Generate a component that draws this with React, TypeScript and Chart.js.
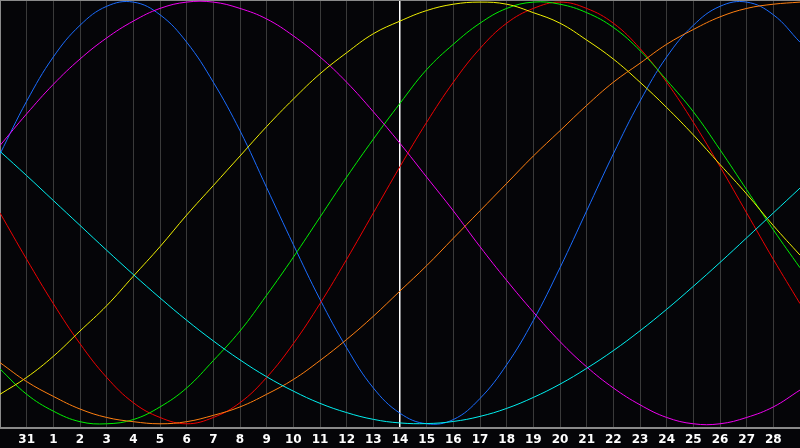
import React, { useEffect, useRef } from "react";
import { Chart, registerables } from "chart.js";

Chart.register(...registerables);

// day of month for each column (first and last are off the labelled range)
const days = [
  "30", "31", "1", "2", "3", "4", "5", "6", "7", "8", "9", "10", "11", "12", "13", "14",
  "15", "16", "17", "18", "19", "20", "21", "22", "23", "24", "25", "26", "27", "28", "1",
];
const todayIndex = 15;

const physical = [
  28, 53, 74, 89, 98, 100, 94, 81, 62, 39, 12, -15, -41, -64, -83, -95,
  -100, -98, -88, -72, -51, -26, 1, 28, 53, 74, 89, 98, 100, 94, 81,
];
const emotional = [
  0, -22, -43, -62, -78, -90, -97, -100, -97, -90, -78, -62, -43, -22, 0, 22,
  43, 62, 78, 90, 97, 100, 97, 90, 78, 62, 43, 22, 0, -22, -43,
];
const intellectual = [
  -74, -86, -94, -99, -100, -98, -92, -83, -70, -56, -39, -21, -2, 17, 35, 52,
  68, 80, 90, 97, 100, 99, 95, 88, 77, 63, 48, 30, 11, -8, -26,
];
const intuitive = [
  32, 47, 61, 73, 83, 91, 97, 100, 100, 97, 92, 84, 74, 62, 48, 33,
  17, 1, -16, -32, -47, -61, -73, -83, -91, -97, -100, -100, -97, -92, -84,
];
const aesthetic = [
  -86, -78, -68, -56, -44, -30, -16, -1, 13, 27, 41, 54, 66, 76, 85, 91,
  96, 99, 100, 99, 95, 90, 82, 73, 62, 50, 37, 23, 9, -6, -20,
];
const awareness = [
  -71, -80, -87, -93, -97, -99, -100, -99, -96, -92, -86, -79, -70, -60, -49, -37,
  -25, -12, 1, 14, 27, 39, 51, 62, 71, 80, 87, 93, 97, 99, 100,
];
const spiritual = [
  29.2, 17.7, 5.9, -5.9, -17.7, -29.2, -40.3, -50.9, -60.7, -69.7, -77.7, -84.5, -90.3, -94.7, -97.9, -99.6,
  -99.9, -98.9, -96.5, -92.7, -87.5, -81.2, -73.7, -65.3, -55.9, -45.7, -34.8, -23.5, -11.8, 0, 11.8,
];

const series = [
  { label: "Spiritual", data: spiritual, color: "#00f0f0" },
  { label: "Awareness", data: awareness, color: "#ff7f10" },
  { label: "Aesthetic", data: aesthetic, color: "#f0f000" },
  { label: "Intuitive", data: intuitive, color: "#f000f0" },
  { label: "Intellectual", data: intellectual, color: "#00f000" },
  { label: "Emotional", data: emotional, color: "#f00000" },
  { label: "Physical", data: physical, color: "#1a6cff" },
];

const App: React.FC = () => {
  const canvasRef = useRef<HTMLCanvasElement>(null);
  const chartRef = useRef<Chart>();

  useEffect(() => {
    document.body.style.margin = "0";
    const canvas = canvasRef.current;
    if (!canvas) return;
    const ctx = canvas.getContext("2d");
    if (!ctx) return;

    chartRef.current = new Chart(ctx, {
      type: "line",
      data: {
        labels: days,
        datasets: series.map((s) => ({
          label: s.label,
          data: s.data,
          borderColor: s.color,
          borderWidth: 1,
          pointRadius: 0,
          tension: 0.4,
          fill: false,
        })),
      },
      options: {
        responsive: false,
        animation: false,
        layout: { padding: 0 },
        plugins: {
          legend: { display: false },
          tooltip: { enabled: false },
        },
        scales: {
          x: {
            offset: false,
            afterFit: (s: any) => {
              s.paddingLeft = 0;
              s.paddingRight = 0;
              s.height = 20;
            },
            grid: {
              color: (c: any) => (c.index === todayIndex ? "#ffffff" : "#3a3a3a"),
              lineWidth: (c: any) => (c.index === todayIndex ? 1.5 : 1),
              drawTicks: false,
            },
            border: { color: "#8a8a8a", width: 2 },
            ticks: {
              autoSkip: false,
              maxRotation: 0,
              padding: 5,
              color: "#ffffff",
              font: { family: "DejaVu Sans", size: 12, weight: "bold" },
              callback: (_v: any, i: number) =>
                i === 0 || i === days.length - 1 ? "" : days[i],
            },
          },
          top: {
            position: "top",
            type: "linear",
            afterFit: (s: any) => {
              s.paddingLeft = 0;
              s.paddingRight = 0;
              s.height = 0;
            },
            grid: { display: false, drawTicks: false },
            border: { color: "#8a8a8a", width: 2 },
            ticks: { display: false },
          },
          y: {
            min: -102,
            max: 101,
            afterFit: (s: any) => {
              s.width = 0;
            },
            ticks: { display: false, stepSize: 100 },
            grid: {
              color: (c: any) => (c.tick && c.tick.value === 0 ? "#ffffff" : "rgba(0,0,0,0)"),
              lineWidth: 1.5,
              drawTicks: false,
            },
            border: { color: "#8a8a8a", width: 2 },
          },
        },
      },
    });

    return () => {
      if (chartRef.current) {
        chartRef.current.destroy();
      }
    };
  }, []);

  return (
    <canvas
      ref={canvasRef}
      width={800}
      height={448}
      style={{ display: "block", background: "#050508" }}
    />
  );
};

export default App;
